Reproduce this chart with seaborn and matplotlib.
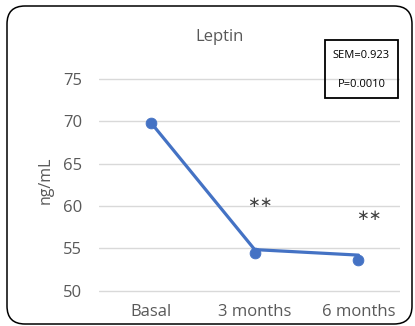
import matplotlib
matplotlib.use("Agg")
import matplotlib.pyplot as plt
import seaborn as sns
import pandas as pd
from matplotlib.patches import FancyBboxPatch, Rectangle

categories = ["Basal", "3 months", "6 months"]
line_values = [69.85, 54.85, 54.2]
marker_values = [69.85, 54.4, 53.65]
yticks = [50, 55, 60, 65, 70, 75]
star_labels = ["", "∗∗", "∗∗"]
star_x = [0, 1.05, 2.1]
star_y = [None, 60.45, 58.9]

sns.set_theme(style="white")
plt.rcParams["font.family"] = ["Open Sans", "DejaVu Sans"]

grey = "#595959"
blue = "#4472C4"

df = pd.DataFrame({"cat": categories, "line": line_values, "marker": marker_values})
df["x"] = range(len(categories))

fig = plt.figure(figsize=(4.15, 3.26), dpi=100)
ax = fig.add_axes([99/415, 1-300/326, 301/415, 240/326])

sns.lineplot(data=df, x="x", y="line", ax=ax, color=blue, linewidth=2.3, zorder=3)
sns.scatterplot(data=df, x="x", y="marker", ax=ax, color=blue, s=60, edgecolor=blue, zorder=4)

ax.set_xlim(-0.5, 2.4)
ax.set_ylim(48.9, 77.24)
ax.set_xticks(df["x"])
ax.set_xticklabels(categories)
ax.set_yticks(yticks)
ax.yaxis.grid(True, color="#D9D9D9", linewidth=1)
ax.xaxis.grid(False)
for s in ax.spines.values():
    s.set_visible(False)
ax.tick_params(axis="both", colors=grey, labelsize=12, length=0)
ax.tick_params(axis="x", pad=3)
ax.tick_params(axis="y", pad=12)
ax.set_xlabel("")
ax.set_ylabel("ng/mL", color=grey, fontsize=11.5, labelpad=7)
ax.patch.set_alpha(0)

for xv, lab, yv in zip(star_x, star_labels, star_y):
    if lab:
        ax.text(xv, yv, lab, ha="center", va="center", color="#404040",
                fontsize=11, family=["DejaVu Sans"])

fig.text(219.5/415, 1-37/326, "Leptin", ha="center", va="center", color=grey, fontsize=12)

# SEM box
fig.patches.append(Rectangle((325/415, 1-98/326), 73/415, 58/326, transform=fig.transFigure,
                             fill=False, edgecolor="black", linewidth=1.3))
fig.text(361.5/415, 1-55/326, "SEM=0.923", ha="center", va="center", fontsize=8, color="black")
fig.text(361.5/415, 1-84/326, "P=0.0010", ha="center", va="center", fontsize=8, color="black")

# rounded border
fig.patches.append(FancyBboxPatch((0.07, 0.02), 4.05, 3.18,
                                  boxstyle="round,pad=0,rounding_size=0.18",
                                  transform=fig.dpi_scale_trans, fill=False,
                                  edgecolor="black", linewidth=1.1))

fig.savefig("out.png", dpi=100)
